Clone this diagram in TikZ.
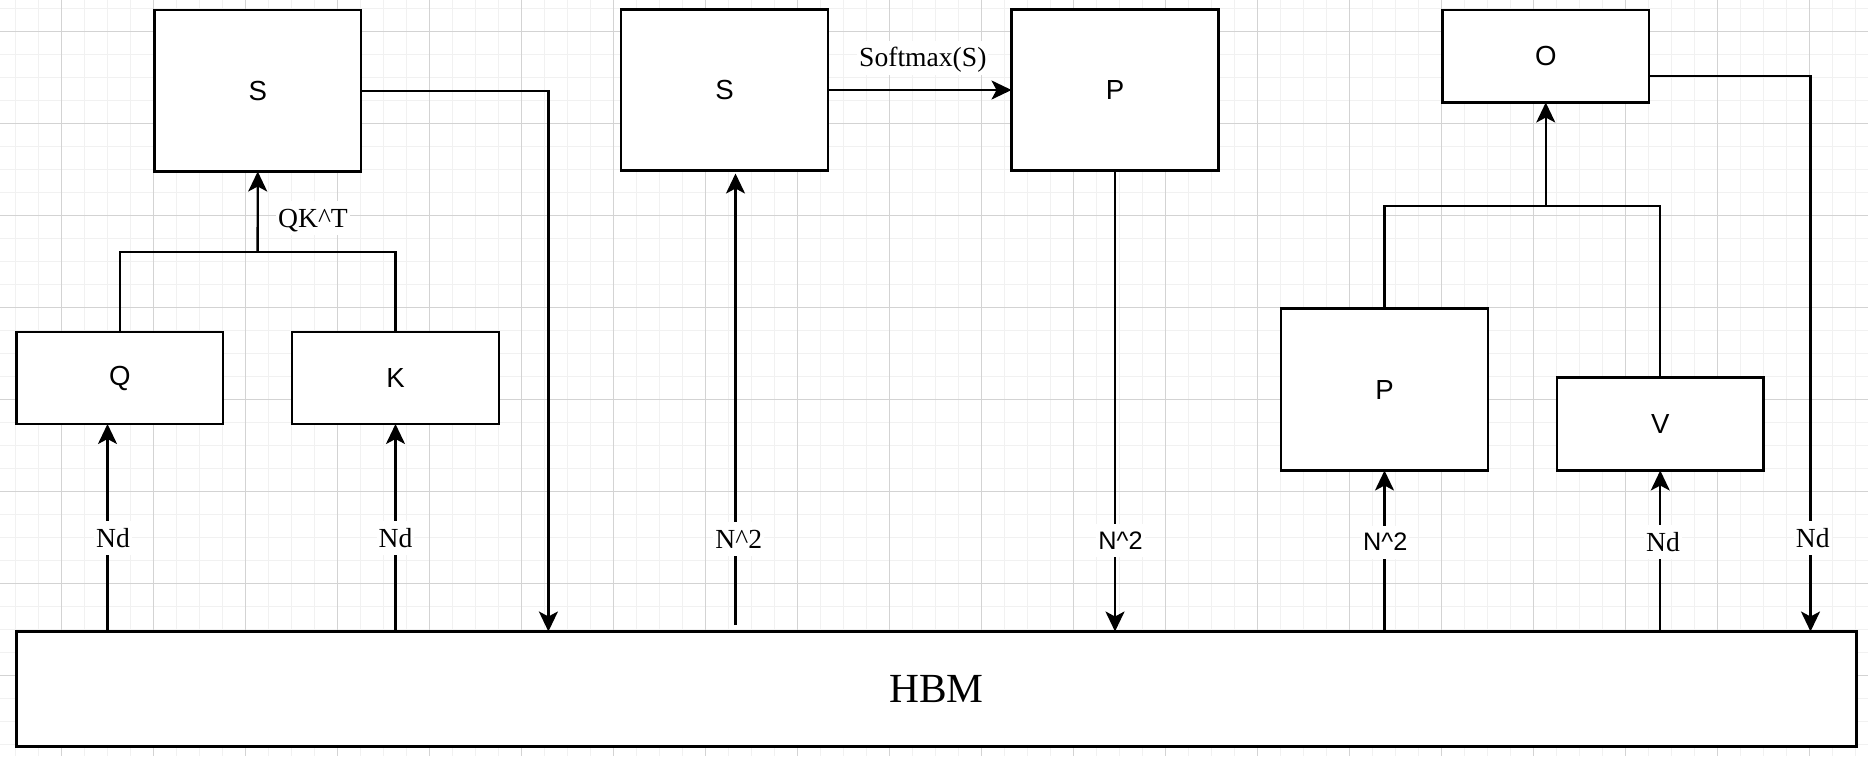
\documentclass[tikz,border=0pt]{standalone}
\usepackage{fontspec}
\setmainfont{Liberation Serif}
\setsansfont{Liberation Sans}
\usetikzlibrary{arrows.meta}
\definecolor{gridminor}{HTML}{F1F1F1}
\definecolor{gridmajor}{HTML}{D3D3D3}
\tikzset{
  box/.style={draw=black, fill=white, line width=2.3pt, rectangle, inner sep=0pt, outer sep=0pt,
    font=\sffamily\fontsize{27.6}{33}\selectfont},
  conn/.style={line width=2.3pt, draw=black},
  arr/.style={conn, -{Stealth[length=20pt,width=19pt,inset=5pt]}},
  lblserif/.style={fill=white, inner xsep=2pt, inner ysep=0pt, anchor=base,
    text height=26pt, text depth=8pt, font=\rmfamily\fontsize{27.6}{33}\selectfont},
  lblsans/.style={fill=white, inner xsep=2pt, inner ysep=0pt, anchor=base,
    text height=25pt, text depth=8pt, font=\sffamily\fontsize{25.3}{30}\selectfont},
  gminor/.style={draw=gridminor, line width=1.5pt},
  gmajor/.style={draw=gridmajor, line width=1pt},
}
\begin{document}
\begin{tikzpicture}[x=1pt, y=-1pt]
\useasboundingbox (0,0) rectangle (1868,756);
\fill[white] (0,0) rectangle (1868,756);
% grid
\foreach \i in {0,...,80} \draw[gminor] ({15.3+23*\i},0) -- ({15.3+23*\i},756);
\foreach \j in {0,...,32} \draw[gminor] (0,{8.3+23*\j}) -- (1868,{8.3+23*\j});
\foreach \i in {0,...,19} \draw[gmajor] ({61.3+92*\i},0) -- ({61.3+92*\i},756);
\foreach \j in {0,...,7} \draw[gmajor] (0,{31.3+92*\j}) -- (1868,{31.3+92*\j});

% boxes
\node[box, minimum width=206.5pt, minimum height=161.5pt] (S1) at (257.75, 90.75) {S};
\node[box, minimum width=206.5pt, minimum height=92pt] (Q) at (119.75, 378) {Q};
\node[box, minimum width=207pt, minimum height=92pt] (K) at (395.5, 378) {K};
\node[box, minimum width=207.5pt, minimum height=161pt] (S2) at (724.5, 90) {S};
\node[box, minimum width=207pt, minimum height=161pt] (P1) at (1115, 90) {P};
\node[box, minimum width=206.5pt, minimum height=92.5pt] (O) at (1545.75, 56.25) {O};
\node[box, minimum width=207pt, minimum height=162pt] (P2) at (1384.5, 389.5) {P};
\node[box, minimum width=206.5pt, minimum height=93pt] (V) at (1660.25, 424) {V};
\node[box, minimum width=1840pt, minimum height=115pt, font=\rmfamily\fontsize{41.4}{50}\selectfont] (HBM) at (936.5, 689) {HBM};

% helper coordinates
\coordinate (qk) at (257.6, 252);
\coordinate (pv) at (1545.75, 206);
\coordinate (xq) at (107.5, 0);
\coordinate (x1) at (548.4, 0);
\coordinate (x2) at (735.5, 0);
\coordinate (xo) at (1810.5, 0);
\coordinate (s2b) at (735.5, 625);

% connectors
\draw[conn] (Q.north) |- (qk) -| (K.north);
\draw[arr] (qk) -- (S1.south);
\draw[arr] (S1.east) -| (HBM.north -| x1);
\draw[arr] (S2.east) -- (P1.west);
\draw[arr] (s2b) -- ([yshift=-3pt]S2.south -| x2);
\draw[arr] (P1.south) -- (HBM.north -| P1.south);
\draw[arr] (HBM.north -| xq) -- (Q.south -| xq);
\draw[arr] (HBM.north -| K.south) -- (K.south);
\draw[arr] (HBM.north -| P2.south) -- (P2.south);
\draw[arr] (HBM.north -| V.south) -- (V.south);
\draw[conn] (P2.north) |- (pv) -| (V.north);
\draw[arr] (pv) -- (O.south);
\draw[arr] ([yshift=-20pt]O.east) -| (HBM.north -| xo);

% labels
\node[lblserif] (lqk) at (313, 227.3) {QK\textasciicircum T};
\node[lblserif] (lsm) at (922.8, 66.7) {Softmax(S)};
\node[lblserif] (lq) at (113, 547.3) {Nd};
\node[lblserif] (lk) at (395.5, 547.3) {Nd};
\node[lblserif] (ls2) at (738.8, 548.3) {N\textasciicircum 2};
\node[lblsans] (lp1) at (1120.5, 549) {N\textasciicircum 2};
\node[lblsans] (lp2) at (1385.3, 550.5) {N\textasciicircum 2};
\node[lblserif] (lv) at (1663, 551) {Nd};
\node[lblserif] (lo) at (1812.8, 547.3) {Nd};
\end{tikzpicture}
\end{document}
